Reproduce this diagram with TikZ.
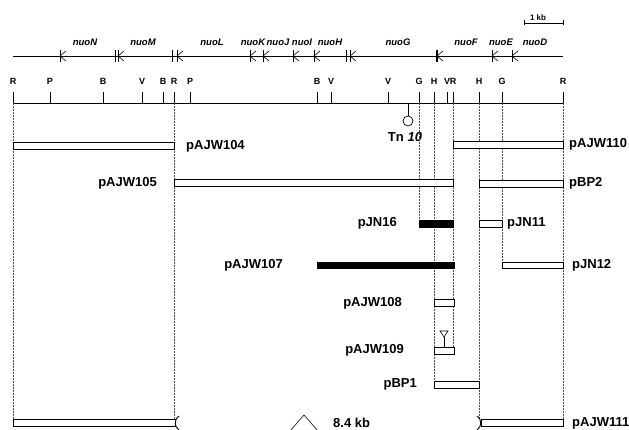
\documentclass[tikz,border=0pt]{standalone}
\usepackage{fontspec}
\setmainfont{Liberation Sans}
\begin{document}
\begin{tikzpicture}[x=1pt,y=-1pt,
  site/.style={font=\bfseries\fontsize{9}{10}\selectfont, inner sep=0pt},
  gene/.style={font=\bfseries\itshape\fontsize{9.5}{10}\selectfont, inner sep=0pt},
  lab/.style={font=\bfseries\fontsize{13}{14}\selectfont, inner sep=0pt},
  openbar/.style={draw, line width=0.9pt, fill=white},
  solidbar/.style={draw, line width=0.9pt, fill=black},
  guide/.style={densely dotted, line width=0.5pt, black!70},
  gk/.pic={\draw[line width=0.7pt] (0,-6) -- (0,6); \draw[line width=0.6pt] (6,-5) -- (0,0) -- (6,5);},
  gkb/.pic={\draw[line width=1.6pt] (0,-6) -- (0,6); \draw[line width=0.6pt] (6,-5) -- (0,0) -- (6,5);},
  gbar/.style={line width=0.7pt}
]
\useasboundingbox (0,0) rectangle (629,430);

% scale bar
\coordinate (sb1) at (524,23);
\coordinate (sb2) at (563,23);
\draw[line width=0.7pt] (sb1) -- (sb2);
\draw[line width=0.6pt] ([yshift=-2.5]sb1) -- ([yshift=2.5]sb1) ([yshift=-2.5]sb2) -- ([yshift=2.5]sb2);
\node[font=\bfseries\fontsize{8}{9}\selectfont, inner sep=0pt] (kb) at (538,18) {1 kb};

% gene line
\coordinate (g1) at (13,56);
\coordinate (g2) at (563,56);
\draw[line width=0.6pt] (g1) -- (g2);
\pic at (60,56) {gk};
\draw[gbar] (115,50) -- (115,62);
\pic at (118,56) {gk};
\draw[gbar] (172,50) -- (172,62);
\pic at (177,56) {gk};
\pic at (250,56) {gk};
\pic at (263,56) {gk};
\pic at (293,56) {gk};
\pic at (314,56) {gk};
\draw[gbar] (346,50) -- (346,62);
\pic at (350,56) {gk};
\pic at (437,56) {gkb};
\pic at (492,56) {gk};
\pic at (512,56) {gk};

\foreach \x/\g in {85/N, 143/M, 212/L, 253/K, 278/J, 302/I, 330/H, 398/G, 466/F, 501/E, 535/D}
  \node[gene] (gene\g) at (\x,42) {nuo\g};

% restriction map
\coordinate (m1) at (13,103);
\coordinate (m2) at (563,103);
\draw[line width=0.8pt] (m1) -- (m2);
\foreach \x/\l [count=\i] in {13/R, 50/P, 103/B, 142/V, 163/B, 174/R, 190/P, 317/B, 331/V, 388/V, 419/G, 434/H, 447/V, 453/R, 479/H, 502/G, 563/R} {
  \coordinate (t\i) at (\x,103);
  \draw[line width=0.7pt] (\x,92) -- (t\i);
  \node[site] (s\i) at (\x,81) {\l};
}

% Tn10
\coordinate (tn) at (408,103);
\node[draw, circle, line width=0.7pt, minimum size=10pt, inner sep=0pt] (tnc) at (408,121) {};
\draw[line width=0.7pt] (tn) -- (tnc.north);
\node[font=\bfseries\fontsize{13}{14}\selectfont, inner sep=0pt] (tnl) at (405,137) {Tn\hspace{4pt}\textit{10}};

% guide coordinates (bottom ends)
\coordinate (e1) at (13,419);
\coordinate (e6) at (174,419);
\coordinate (e11) at (419,220);
\coordinate (e12) at (434,381);
\coordinate (e14) at (453,347);
\coordinate (e15) at (479,419);
\coordinate (e16) at (502,262);
\coordinate (e17) at (563,419);
\foreach \i in {1,6,11,12,14,15,16,17}
  \draw[guide] (t\i) -- (e\i);

% bars
\draw[openbar] (13,142) rectangle (174,149);
\node[lab, anchor=west] (p104) at (186,146) {pAJW104};
\draw[openbar] (174,179) rectangle (453,186);
\node[lab, anchor=east] (p105) at (157,183) {pAJW105};
\draw[openbar] (453,141) rectangle (563,148);
\node[lab, anchor=west] (p110) at (569,144) {pAJW110};
\draw[openbar] (479,180) rectangle (563,187);
\node[lab, anchor=west] (pbp2) at (569,183) {pBP2};
\draw[solidbar] (419,220) rectangle (453,227);
\node[lab, anchor=east] (pjn16) at (397,223) {pJN16};
\draw[openbar] (479,220) rectangle (502,227);
\node[lab, anchor=west] (pjn11) at (507,223) {pJN11};
\draw[solidbar] (317,262) rectangle (454,268);
\node[lab, anchor=east] (p107) at (283,265) {pAJW107};
\draw[openbar] (502,262) rectangle (563,268);
\node[lab, anchor=west] (pjn12) at (572,265) {pJN12};
\draw[openbar] (434,299) rectangle (454,306);
\node[lab, anchor=east] (p108) at (402,303) {pAJW108};
\draw[openbar] (434,347) rectangle (454,354);
\node[lab, anchor=east] (p109) at (404,350) {pAJW109};
\coordinate (lp1) at (444,337);
\coordinate (lp2) at (444,347);
\draw[line width=0.7pt] (lp1) -- (lp2);
\draw[line width=0.6pt] (440,331) -- (448,331) -- (lp1) -- cycle;
\draw[openbar] (434,381) rectangle (479,388);
\node[lab, anchor=east] (pbp1) at (417,384) {pBP1};

% pAJW111 with deletion
\draw[openbar] (13,419) rectangle (175,426);
\draw[line width=0.9pt] (179,416) .. controls (174,419) and (174,427) .. (179,430);
\draw[openbar] (481,419) rectangle (563,426);
\draw[line width=0.9pt] (477,416) .. controls (482,419) and (482,427) .. (477,430);
\node[lab, anchor=west] (p111) at (572,423) {pAJW111};
\coordinate (w1) at (290,431);
\coordinate (w2) at (304,415);
\coordinate (w3) at (318,431);
\draw[line width=0.6pt] (w1) -- (w2) -- (w3);
\node[lab, anchor=west] (del) at (333,423) {8.4 kb};
\end{tikzpicture}
\end{document}
